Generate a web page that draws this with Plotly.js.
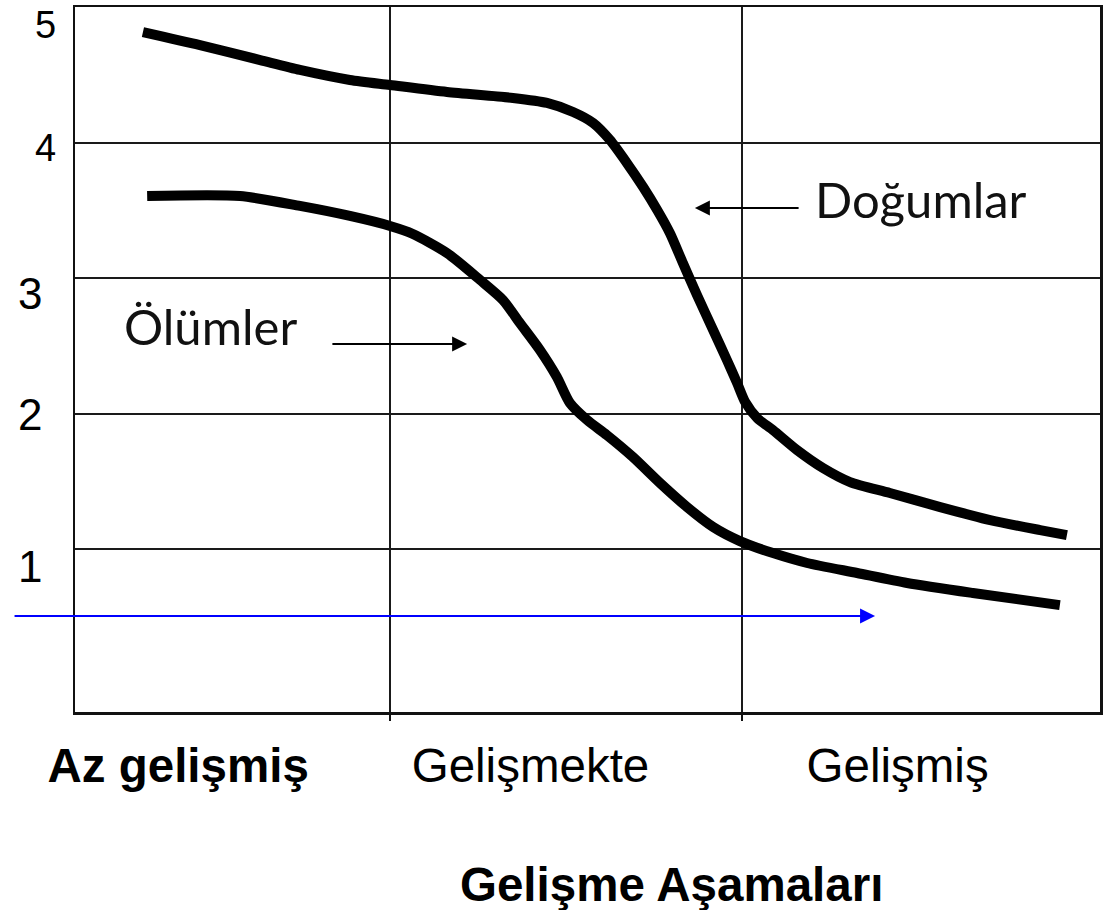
<!DOCTYPE html>
<html>
<head>
<meta charset="utf-8">
<script src="https://cdn.plot.ly/plotly-3.0.1.min.js"></script>
<style>
  html, body { margin: 0; padding: 0; background: #fff; }
  #chart { width: 1103px; height: 910px; }
</style>
</head>
<body>
<div id="chart"></div>
<script>
// ---- data ----
const stageLabels = ['<b>Az gelişmiş</b>', 'Gelişmekte', 'Gelişmiş'];
const stageBounds = [1, 2];
const yTickLabels = ['5', '4', '3', '2', '1'];
const yTickValues = [5, 4, 3, 2, 1];

const birthX = [0.298, 0.460, 0.631, 0.744, 0.886, 1.000, 1.162, 1.349, 1.446, 1.520, 1.577, 1.625, 1.673, 1.719, 1.759, 1.795, 1.832, 1.872, 1.918, 1.957, 1.986, 2.009, 2.043, 2.088, 2.156, 2.230, 2.307, 2.420, 2.563, 2.705, 2.847, 2.923];
const birthY = [4.820, 4.724, 4.613, 4.540, 4.466, 4.429, 4.377, 4.333, 4.296, 4.229, 4.148, 4.022, 3.852, 3.675, 3.505, 3.335, 3.113, 2.877, 2.618, 2.397, 2.227, 2.086, 1.968, 1.879, 1.732, 1.599, 1.495, 1.414, 1.310, 1.214, 1.140, 1.103];

const deathX = [0.310, 0.574, 0.744, 0.886, 1.000, 1.065, 1.162, 1.256, 1.321, 1.369, 1.426, 1.474, 1.511, 1.560, 1.616, 1.690, 1.767, 1.844, 1.918, 1.994, 2.088, 2.185, 2.327, 2.469, 2.656, 2.903];
const deathY = [3.608, 3.608, 3.535, 3.461, 3.387, 3.328, 3.187, 2.988, 2.840, 2.670, 2.470, 2.271, 2.079, 1.953, 1.842, 1.680, 1.488, 1.310, 1.163, 1.059, 0.970, 0.897, 0.823, 0.749, 0.675, 0.586];

const seriesNames = ['Doğumlar', 'Ölümler'];
const axisTitle = 'Gelişme Aşamaları';

// ---- layout / style (not data) ----
const stageTickPos = [0.398, 1.399, 2.442];
const yLabelX = [-0.029, -0.029, -0.044, -0.044, -0.044];
const yLabelShift = [-17, -5, -15, -1, -17];
const yLabelSize = [38, 38, 44, 44, 44];

const curveLine = { color: '#000', width: 10, shape: 'spline', smoothing: 0.7 };
const traces = [
  { x: birthX, y: birthY, name: seriesNames[0], mode: 'lines', line: curveLine, hoverinfo: 'skip' },
  { x: deathX, y: deathY, name: seriesNames[1], mode: 'lines', line: curveLine, hoverinfo: 'skip' }
];

const annotations = [];
yTickLabels.forEach((t, i) => {
  annotations.push({
    text: t, xref: 'paper', yref: 'y', x: yLabelX[i], y: yTickValues[i],
    yshift: yLabelShift[i], xanchor: 'center', yanchor: 'middle', showarrow: false,
    font: { family: 'Liberation Sans, Arial, sans-serif', size: yLabelSize[i], color: '#000' }
  });
});
// series labels
annotations.push({ text: seriesNames[0], xref: 'x', yref: 'y', x: 2.509, y: 3.586,
  xanchor: 'center', yanchor: 'middle', showarrow: false,
  font: { family: 'Lato, sans-serif', size: 49, color: '#111' } });
annotations.push({ text: seriesNames[1], xref: 'x', yref: 'y', x: 0.490, y: 2.648,
  xanchor: 'center', yanchor: 'middle', showarrow: false,
  font: { family: 'Lato, sans-serif', size: 49, color: '#111' } });
// arrows
annotations.push({ text: '', xref: 'x', yref: 'y', axref: 'x', ayref: 'y',
  x: 1.866, y: 3.520, ax: 2.165, ay: 3.520, showarrow: true,
  arrowhead: 2, arrowsize: 1.5, arrowwidth: 2, arrowcolor: '#000' });
annotations.push({ text: '', xref: 'x', yref: 'y', axref: 'x', ayref: 'y',
  x: 1.219, y: 2.515, ax: 0.832, ay: 2.515, showarrow: true,
  arrowhead: 2, arrowsize: 1.5, arrowwidth: 2, arrowcolor: '#000' });
annotations.push({ text: '', xref: 'x', yref: 'y', axref: 'x', ayref: 'y',
  x: 2.378, y: 0.505, ax: -0.071, ay: 0.505, showarrow: true,
  arrowhead: 2, arrowsize: 1.5, arrowwidth: 2, arrowcolor: '#0000ff' });
// axis title
annotations.push({ text: '<b>' + axisTitle + '</b>', xref: 'paper', yref: 'paper',
  x: 0.5815, y: -0.244, xanchor: 'center', yanchor: 'middle', showarrow: false,
  font: { family: 'Liberation Sans, Arial, sans-serif', size: 47.5, color: '#000' } });

const layout = {
  width: 1103, height: 910,
  margin: { l: 75, r: 3, t: 7, b: 198, pad: 0 },
  paper_bgcolor: '#fff', plot_bgcolor: '#fff',
  showlegend: false,
  xaxis: {
    range: [0.105, 3.017], tickmode: 'array', tickvals: stageTickPos, ticktext: stageLabels,
    ticks: '', showgrid: false, zeroline: false,
    showline: true, mirror: true, linecolor: '#111', linewidth: 2.5,
    ticklabelstandoff: 10,
    tickfont: { family: 'Liberation Sans, Arial, sans-serif', size: 47.5, color: '#000' },
    minor: { tickmode: 'array', tickvals: stageBounds, showgrid: true, gridcolor: '#1a1a1a',
             gridwidth: 2, ticks: 'outside', ticklen: 6, tickwidth: 2, tickcolor: '#111' },
    fixedrange: true
  },
  yaxis: {
    range: [-0.204, 5.005], tickmode: 'array', tickvals: [1, 2, 3, 4],
    showticklabels: false, ticks: '', showgrid: true, gridcolor: '#1a1a1a', gridwidth: 2,
    zeroline: false, showline: true, mirror: true, linecolor: '#111', linewidth: 2.5,
    fixedrange: true
  },
  annotations: annotations
};

Plotly.newPlot('chart', traces, layout, { displayModeBar: false, staticPlot: true });
</script>
</body>
</html>
